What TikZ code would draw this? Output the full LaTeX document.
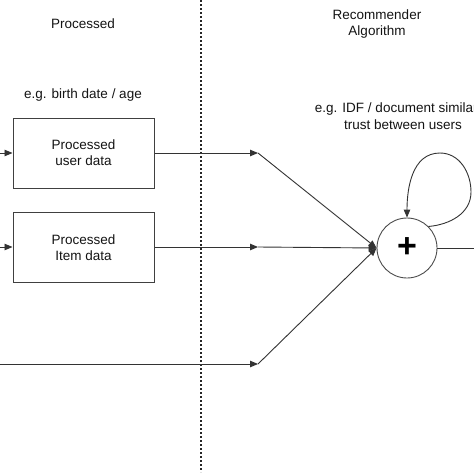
\documentclass[tikz,border=0pt]{standalone}
\usepackage{fontspec}
\setmainfont{Liberation Sans}
\usetikzlibrary{arrows.meta}
\begin{document}
\begin{tikzpicture}[x=1pt,y=-1pt,
  lbl/.style={font=\fontsize{13.5}{16.5}\selectfont, text=black!92, align=center, inner sep=0pt},
  databox/.style={draw=black!75, line width=1pt, minimum width=141pt, minimum height=70pt, inner sep=0pt, font=\fontsize{13.5}{16}\selectfont, text=black!92, align=center},
  sumnode/.style={draw=black!70, line width=0.9pt, circle, minimum size=60pt, inner sep=0pt},
  conn/.style={draw=black!80, line width=0.9pt},
  arr/.style={conn, -{Triangle[length=8pt,width=6.5pt]}},
  divider/.style={draw=black!85, line width=1.3pt, dash pattern=on 2.2pt off 1.8pt}
]
\useasboundingbox[fill=white] (0,0) rectangle (474,474);

% titles
\node[lbl] (t1) at (83,24) {Processed};
\node[lbl] (t2) at (377,24) {Recommender\\Algorithm};
\node[lbl] (n1) at (83,95) {e.g. birth date / age};
\node[lbl, anchor=north] (n2) at (403,103) {e.g. IDF / document similarity\\trust between users};

% divider
\coordinate (d1) at (201,0);
\coordinate (d2) at (201,472);
\draw[divider] (d1) -- (d2);

% boxes
\node[databox] (b1) at (83.5,153) {Processed\\user data};
\node[databox] (b2) at (83.5,247.5) {Processed\\Item data};

% sum node
\node[sumnode] (s) at (407,248) {};
\node (plus) at (s.center) {\fontsize{34}{34}\selectfont\bfseries +};

% free ends
\coordinate (in1) at (0,153);
\coordinate (in2) at (0,247);
\coordinate (in3) at (0,364);
\coordinate (out) at (474,248);
\coordinate (j1) at (258,153);
\coordinate (j2) at (258,247);
\coordinate (j3) at (258,364);

\draw[arr] (in1) -- (b1.west|-in1);
\draw[arr] (in2) -- (b2.west|-in2);
\draw[arr] (b1.east|-j1) -- (j1);
\draw[arr] (b2.east|-j2) -- (j2);
\draw[arr] (in3) -- (j3);

\draw[arr] (j1) -- (s.west);
\draw[arr] (j2) -- (s.west);
\draw[arr] (j3) -- (s.west);

\draw[conn] (s.east) -- (out);

% self loop
\coordinate (l1) at (471,192);
\coordinate (l2) at (440,153);
\draw[arr] (s.45) to[out=5,in=-90] (l1) to[out=90,in=0] (l2) to[out=180,in=90] (s.north);
\end{tikzpicture}
\end{document}
